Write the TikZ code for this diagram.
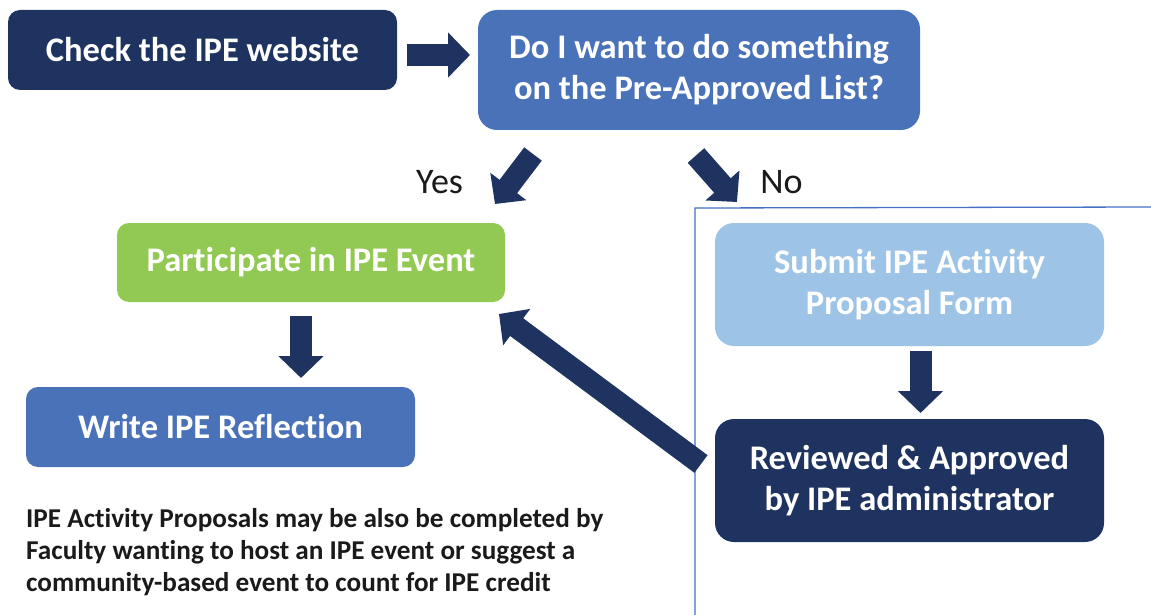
\documentclass[tikz,border=0pt]{standalone}
\usepackage{fontspec}
\setmainfont{Carlito}[Ligatures=NoCommon]
\usetikzlibrary{arrows.meta}
\definecolor{navy}{HTML}{1F3360}
\definecolor{midblue}{HTML}{4A72B9}
\definecolor{lightblue}{HTML}{9DC3E6}
\definecolor{lgreen}{HTML}{92C952}
\definecolor{frameblue}{HTML}{4472C4}
\definecolor{txtdark}{HTML}{1A1A1A}
\begin{document}
\begin{tikzpicture}[x=1pt,y=-1pt,
  box/.style={rectangle, inner sep=0pt, text=white, align=center,
    font=\bfseries\fontsize{34.5}{41}\selectfont},
  shortbox/.style={box, minimum width=389pt, minimum height=80pt, rounded corners=12pt},
  tallbox/.style={box, minimum height=122pt, rounded corners=19pt},
  blockarrow/.style={draw=navy, line width=22pt,
    -{Triangle[width=44pt,length=22pt]}},
  answer/.style={text=txtdark, inner sep=0pt, font=\fontsize{36}{40}\selectfont},
]
\useasboundingbox (0,0) rectangle (1151,615);
\fill[white] (0,0) rectangle (1151,615);

% frame
\coordinate (fa) at (695,615);
\coordinate (fb) at (695,208);
\coordinate (fc) at (1151,207);
\draw[frameblue, line width=1.3pt] (fa) -- (fb) -- (fc);

% boxes
\node[shortbox, fill=navy] (check) at (202.5,50) {Check the IPE website};
\node[tallbox, fill=midblue, minimum width=442pt, minimum height=120pt] (want) at (699,70)
  {Do I want to do something\\on the Pre-Approved List?};
\node[shortbox, fill=lgreen, minimum width=388pt, minimum height=79pt] (part) at (311,262.5)
  {Participate in IPE Event};
\node[shortbox, fill=midblue] (refl) at (220.5,427) {Write IPE Reflection};
\node[tallbox, fill=lightblue, minimum width=389pt, minimum height=123pt] (submit) at (909.5,284.5)
  {Submit IPE Activity\\Proposal Form};
\node[tallbox, fill=navy, minimum width=389pt, minimum height=123pt] (review) at (909.5,480.5)
  {Reviewed \& Approved\\by IPE administrator};

% labels
\node[answer] (yes) at (439.5,182) {Yes};
\node[answer] (no) at (781.5,182) {No};

% arrow end points
\coordinate (a1s) at (407,55);   \coordinate (a1e) at (470,55);
\coordinate (a2s) at (533,154);  \coordinate (a2e) at (495,204);
\coordinate (a3s) at (696,155.5);\coordinate (a3e) at (737,202);
\coordinate (a4s) at (301,316);  \coordinate (a4e) at (301,378);
\coordinate (a5s) at (920.5,351);\coordinate (a5e) at (920.5,413);
\coordinate (a6s) at (701,464);  \coordinate (a6e) at (499,314);

\draw[blockarrow] (a1s) -- (a1e);
\draw[blockarrow] (a2s) -- (a2e);
\draw[blockarrow] (a3s) -- (a3e);
\draw[blockarrow] (a4s) -- (a4e);
\draw[blockarrow] (a5s) -- (a5e);
\draw[blockarrow] (a6s) -- (a6e);

% note
\node[anchor=north west, align=left, inner sep=0pt, text=txtdark,
  font=\bfseries\fontsize{27.2}{32}\selectfont] (note) at (26,508)
  {IPE Activity Proposals may be also be completed by\\
   Faculty wanting to host an IPE event or suggest a\\
   community-based event to count for IPE credit};
\end{tikzpicture}
\end{document}
